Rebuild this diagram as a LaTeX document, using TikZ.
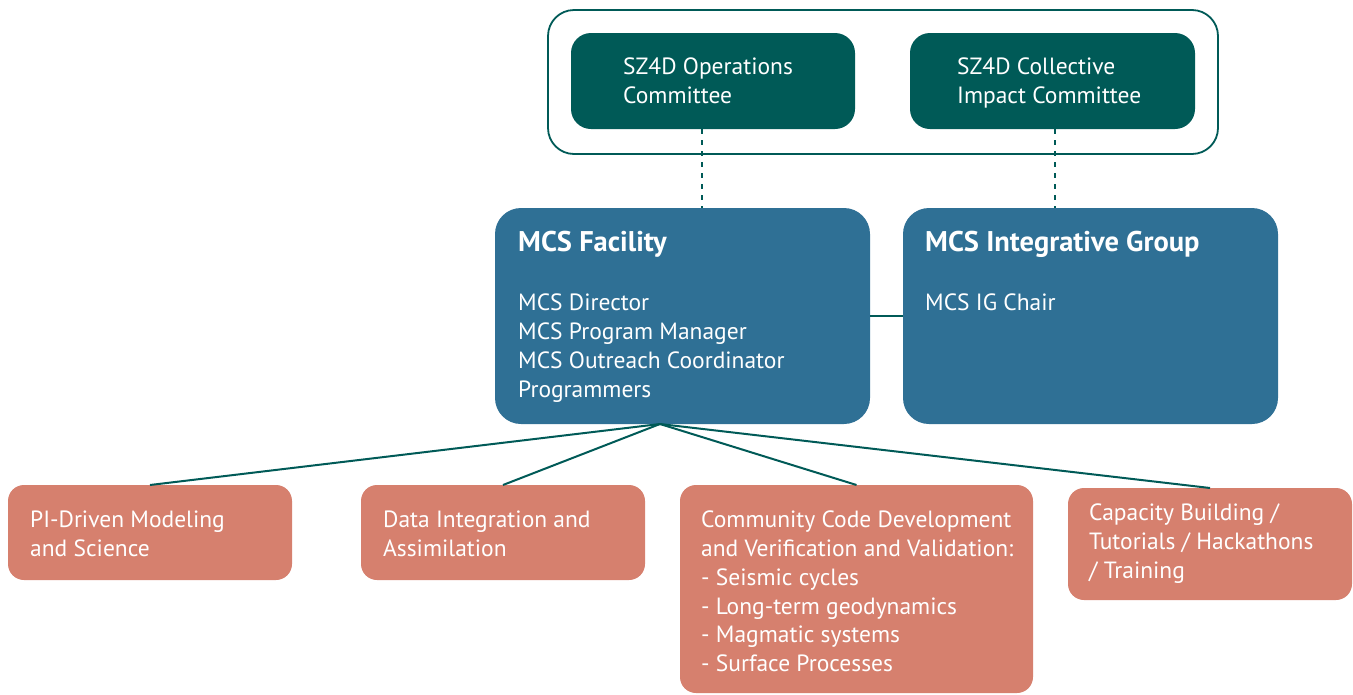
\documentclass[tikz,border=0pt]{standalone}
\usepackage{fontspec}
\setmainfont{PT Sans}
\definecolor{teal}{HTML}{005A57}
\definecolor{mcsblue}{HTML}{2F7095}
\definecolor{salmon}{HTML}{D6806E}
\begin{document}
\begin{tikzpicture}[x=1pt,y=-1pt,
  box/.style={rounded corners=#1, inner sep=0pt, outer sep=0pt, anchor=north west},
  tealbox/.style={box=20pt, fill=teal, minimum width=284pt, minimum height=96pt},
  bluebox/.style={box=26pt, fill=mcsblue, minimum width=375pt, minimum height=216pt},
  salmonbox/.style={box=16pt, fill=salmon},
  outerbox/.style={box=26pt, draw=teal, line width=1.8pt, fill=white},
  txt/.style={text=white, anchor=north west, inner sep=0pt, align=left,
    font=\fontsize{23.5}{28.7}\selectfont},
  ttl/.style={text=white, anchor=north west, inner sep=0pt,
    font=\bfseries\fontsize{28.5}{30}\selectfont},
  link/.style={draw=teal, line width=2pt},
  dlink/.style={draw=teal, line width=1.2pt, dash pattern=on 5pt off 6pt}]
\useasboundingbox (0,0) rectangle (1353,694);

% SZ4D committees
\node[outerbox, minimum width=670pt, minimum height=144pt] (committees) at (548,10) {};
\node[tealbox] (ops) at (571,33) {};
\node[tealbox, minimum width=285pt] (coll) at (910,33) {};
\node[txt] (opsT) at (623,57.5) {SZ4D Operations\\Committee};
\node[txt] (collT) at (957,57.5) {SZ4D Collective\\Impact Committee};

% MCS boxes
\node[bluebox] (fac) at (495,208) {};
\node[bluebox] (ig) at (903,208) {};
\node[ttl] (facT) at (518,231) {MCS Facility};
\node[txt] (facL) at (518,294) {MCS Director\\MCS Program Manager\\MCS Outreach Coordinator\\Programmers};
\node[ttl] (igT) at (925,231) {MCS Integrative Group};
\node[txt] (igL) at (925,294) {MCS IG Chair};

% activity boxes
\node[salmonbox, minimum width=284pt, minimum height=95pt] (pi) at (8,485) {};
\node[salmonbox, minimum width=284pt, minimum height=95pt] (data) at (361,485) {};
\node[salmonbox, minimum width=353pt, minimum height=208pt] (comm) at (680,485) {};
\node[salmonbox, minimum width=284pt, minimum height=112pt] (cap) at (1068,488) {};
\node[txt] (piT) at (30,511) {PI-Driven Modeling\\and Science};
\node[txt] (dataT) at (383,511) {Data Integration and\\Assimilation};
\node[txt] (commT) at (701,511) {Community Code Development\\and Verification and Validation:\\- Seismic cycles\\- Long-term geodynamics\\- Magmatic systems\\- Surface Processes};
\node[txt] (capT) at (1089,504) {Capacity Building /\\Tutorials / Hackathons\\/ Training};

% connectors
\draw[dlink] ([xshift=131pt]ops.south west) -- ([xshift=207pt]fac.north west);
\draw[dlink] ([xshift=145pt]coll.south west) -- ([xshift=152pt]ig.north west);
\draw[link] (fac.east) -- (ig.west);
\coordinate (hub) at ([xshift=165pt]fac.south west);
\draw[link] (hub) -- (pi.north);
\draw[link] (hub) -- (data.north);
\draw[link] (hub) -- (comm.north);
\draw[link] (hub) -- (cap.north);
\end{tikzpicture}
\end{document}
